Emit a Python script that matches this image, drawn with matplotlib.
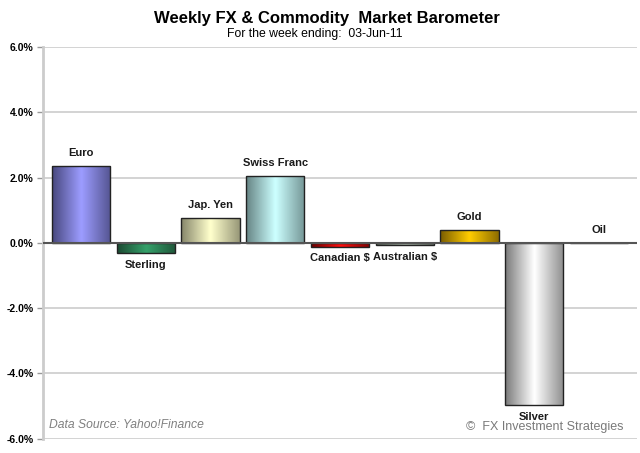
import numpy as np
import matplotlib.pyplot as plt
from matplotlib.colors import LinearSegmentedColormap

plt.rcParams['font.family'] = ['Liberation Sans', 'DejaVu Sans']

# weekly % change
categories = ['Euro', 'Sterling', 'Jap. Yen', 'Swiss Franc', 'Canadian $',
              'Australian $', 'Gold', 'Silver', 'Oil']
changes = [2.35, -0.32, 0.76, 2.05, -0.12, -0.06, 0.39, -4.97, 0.0]
yticks = [-6, -4, -2, 0, 2, 4, 6]

# (dark edge, light centre) for each bar's gradient
bar_colors = [('#48487e', '#9c9cff'), ('#1c4a32', '#35a06a'), ('#86866a', '#ffffcc'),
              ('#668484', '#ccffff'), ('#6a0000', '#ff1010'), ('#5c6a5c', '#c8d8c8'),
              ('#7a5c00', '#ffcc00'), ('#7a7a7a', '#ffffff'), ('#7a7a7a', '#ffffff')]

fig = plt.figure(figsize=(6.4, 4.53), dpi=100)
ax = fig.add_axes([43 / 640, 14.4 / 453, 594 / 640, 391.6 / 453])

x = np.arange(len(categories))
bars = ax.bar(x, changes, width=0.9, edgecolor='#222222', linewidth=1.0,
              facecolor='none', zorder=3)

grad = np.concatenate([np.linspace(0, 1, 50), np.linspace(1, 0.15, 50)])[None, :]
for b, (dark, light) in zip(bars, bar_colors):
    h = b.get_height()
    if h == 0:
        continue
    cmap = LinearSegmentedColormap.from_list('g', [dark, light])
    x0 = b.get_x()
    im = ax.imshow(grad, cmap=cmap, aspect='auto', vmin=0, vmax=1,
                   extent=[x0, x0 + b.get_width(), min(0, h), max(0, h)], zorder=2)
    im.set_clip_path(b)

# bar labels
for xi, v, name in zip(x, changes, categories):
    y = v + 0.4 if v >= 0 else v - 0.36
    ax.text(xi, y, name, ha='center', va='center', fontsize=8,
            fontweight='bold', color='#1a1a1a')

ax.set_xlim(-0.59, 8.59)
ax.set_ylim(-6, 6)
ax.set_yticks(yticks)
ax.set_yticklabels([f'{t:.1f}%' for t in yticks], fontsize=7.5, fontweight='bold')
ax.set_xticks([])
ax.tick_params(axis='y', length=4, width=1, color='#999999', pad=3)
for t in yticks:
    if t != 0:
        ax.axhline(t, color='#d0d0d0', linewidth=1.3, zorder=0)
ax.axhline(0, color='#555555', linewidth=1.5, zorder=4)
for s in ['top', 'right', 'bottom']:
    ax.spines[s].set_visible(False)
ax.spines['left'].set_color('#cccccc')
ax.spines['left'].set_linewidth(2)

fig.text(327 / 640, 1 - 19 / 453, 'Weekly FX & Commodity  Market Barometer', ha='center',
         va='center', fontsize=12, fontweight='bold')
fig.text(315 / 640, 1 - 34 / 453, 'For the week ending:  03-Jun-11', ha='center',
         va='center', fontsize=8.8)
ax.text(0.01, 0.035, 'Data Source: Yahoo!Finance', transform=ax.transAxes,
        fontsize=8.7, style='italic', color='#808080', ha='left', va='center')
fig.text(623 / 640, 1 - 427 / 453, '\u00a9  FX Investment Strategies', ha='right',
         va='center', fontsize=9, color='#7a7a7a')

fig.savefig('out.png', dpi=100)
